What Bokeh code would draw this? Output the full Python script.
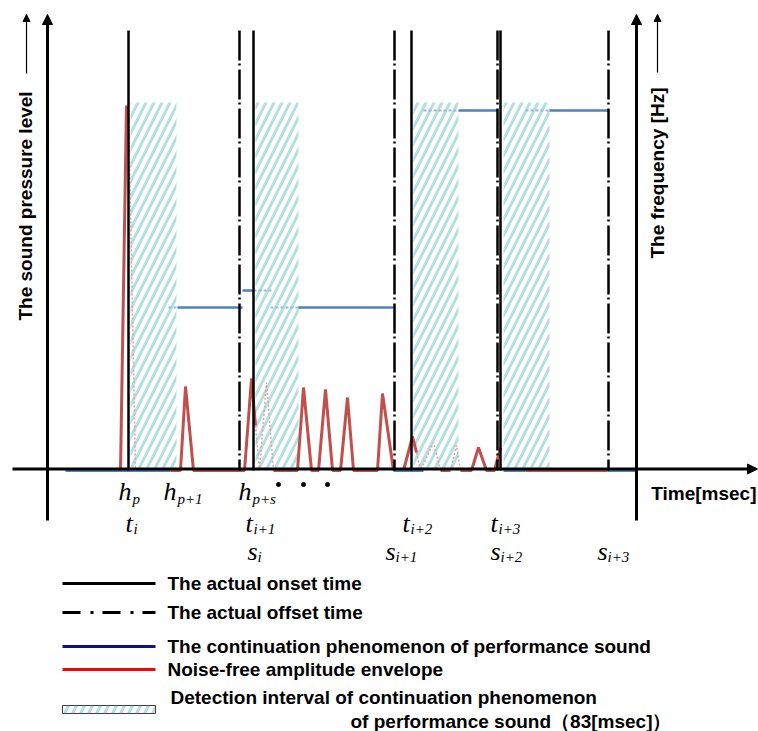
import math
from bokeh.plotting import figure
from bokeh.models import Range1d, Arrow, NormalHead
from bokeh.core.properties import value
from bokeh.embed import file_html
from bokeh.resources import INLINE

# ---------------- data (time in diagram units, level above the time axis) ----------------
onset_t = [128, 253, 411, 500]          # actual onset times t_i ... t_i+3
offset_t = [239, 394, 497, 608]         # actual offset times s_i ... s_i+3
marker_top = [440, 440, 440, 440]

detect_start = [130, 255, 413, 503]     # detection intervals (83 msec)
detect_end = [176, 298, 458, 549]
detect_top = [368, 368, 368, 368]

freq_solid_x0 = [177, 298, 242, 458, 549]
freq_solid_x1 = [242, 393, 253, 497, 608]
freq_solid_lv = [163, 163, 180, 360, 360]
freq_dot_x0 = [168, 270, 253, 423, 525]
freq_dot_x1 = [177, 298, 272, 458, 549]
freq_dot_lv = [163, 163, 180, 360, 360]
freq_zero_x0 = [65, 393, 503, 607]
freq_zero_x1 = [170, 423, 525, 636]

env_xs = [
    [120, 126],
    [170, 180, 185, 193, 244, 251, 255],
    [273, 297, 303, 311, 318, 325, 332, 340, 347, 353, 377, 382, 393],
    [403, 412, 416],
    [440, 450],
    [460, 471, 478, 486, 494, 500],
    [525, 607],
]
env_ys = [
    [0, 365],
    [0, 0, 84, 0, 0, 92, 45],
    [0, 0, 83, 0, 0, 81, 0, 0, 73, 0, 0, 77, 0],
    [0, 34, 18],
    [0, 0],
    [0, 0, 23, 0, 0, 23],
    [0, 0],
]
env_dot_xs = [[128, 135], [255, 259, 266, 273], [416, 420, 433, 440], [450, 456, 460]]
env_dot_ys = [[365, 0], [45, 0, 88, 0], [18, 0, 28, 0], [0, 25, 0]]

h_subs = ["p", "p+1", "p+s"]
h_pos = [118, 163, 238]
t_subs = ["i", "i+1", "i+2", "i+3"]
t_pos = [125, 245, 402, 490]
s_subs = ["i", "i+1", "i+2", "i+3"]
s_pos = [247, 385, 490, 597]
dots_t = [278, 303, 327]
dots_lv = [-14, -14, -14]

legend_labels = ["The actual onset time", "The actual offset time",
                 "The continuation phenomenon of performance sound",
                 "Noise-free amplitude envelope"]

# ---------------- figure ----------------
BASE = 470
def lv(Y):
    return BASE - Y

W, H = 758, 731
p = figure(width=W, height=H, x_range=Range1d(0, W), y_range=Range1d(lv(H), lv(0)),
           output_backend="svg", toolbar_location=None,
           x_axis_location=None, y_axis_location=None, min_border=0,
           min_border_left=0, min_border_right=0, min_border_top=0, min_border_bottom=0)
p.grid.visible = False
p.outline_line_color = None
p.background_fill_color = "white"

SANS = value("Liberation Sans")
SERIF = value("Liberation Serif")
HATCH = "#b3e0e4"

# detection intervals
p.quad(left=detect_start, right=detect_end, bottom=[0] * 4, top=detect_top,
       fill_color=None, line_color=None, hatch_pattern="/", hatch_color=HATCH,
       hatch_scale=16, hatch_weight=3)

# frequency lines
p.segment(x0=freq_dot_x0, y0=freq_dot_lv, x1=freq_dot_x1, y1=freq_dot_lv,
          line_color="#9db6dc", line_width=2, line_dash="3 2")
p.segment(x0=freq_solid_x0, y0=freq_solid_lv, x1=freq_solid_x1, y1=freq_solid_lv,
          line_color="#4f81bd", line_width=2.5)
p.segment(x0=freq_zero_x0, y0=[0] * 4, x1=freq_zero_x1, y1=[0] * 4,
          line_color="#4f81bd", line_width=3)

# envelope
p.multi_line(xs=env_dot_xs, ys=env_dot_ys, line_color="#e3a2a2", line_width=1.5, line_dash="2 2")
p.multi_line(xs=env_xs, ys=env_ys, line_color="#c0504d", line_width=3)

# onset / offset lines
p.segment(x0=onset_t, y0=marker_top, x1=onset_t, y1=[0] * 4, line_color="black", line_width=2.5)
p.segment(x0=offset_t, y0=marker_top, x1=offset_t, y1=[0] * 4, line_color="black",
          line_width=2.5, line_dash="30 3 2 4")

# axes
p.add_layout(Arrow(x_start=12, y_start=1.5, x_end=757, y_end=1.5, line_width=3,
                   end=NormalHead(size=10, fill_color="black", line_color="black")))
p.add_layout(Arrow(x_start=47, y_start=lv(520), x_end=47, y_end=lv(14), line_width=3,
                   end=NormalHead(size=10, fill_color="black", line_color="black")))
p.add_layout(Arrow(x_start=636, y_start=lv(520), x_end=636, y_end=lv(14), line_width=3,
                   end=NormalHead(size=10, fill_color="black", line_color="black")))
p.add_layout(Arrow(x_start=26, y_start=lv(73), x_end=26, y_end=lv(14), line_width=1.2,
                   end=NormalHead(size=7, fill_color="black", line_color="black")))
p.add_layout(Arrow(x_start=657, y_start=lv(72), x_end=657, y_end=lv(14), line_width=1.2,
                   end=NormalHead(size=7, fill_color="black", line_color="black")))

p.text(x=[25], y=[lv(320)], text=["The sound pressure level"], angle=math.pi / 2,
       text_font=SANS, text_font_style="bold", text_font_size="19px",
       text_align="left", text_baseline="middle", text_color="black")
p.text(x=[657], y=[lv(258)], text=["The frequency [Hz]"], angle=math.pi / 2,
       text_font=SANS, text_font_style="bold", text_font_size="19px",
       text_align="left", text_baseline="middle", text_color="black")
p.text(x=[756], y=[lv(493)], text=["Time[msec]"], text_font=SANS, text_font_style="bold",
       text_font_size="19px", text_align="right", text_baseline="middle", text_color="black")

# symbol labels
def sym(letter, pos, subs, yb, ys, dx):
    p.text(x=pos, y=[lv(yb)] * len(pos), text=[letter] * len(pos), text_font=SERIF,
           text_font_style="italic", text_font_size="26px", text_align="left",
           text_baseline="alphabetic", text_color="black")
    p.text(x=pos, y=[lv(ys)] * len(pos), text=subs, x_offset=dx, text_font=SERIF,
           text_font_style="italic", text_font_size="15px", text_align="left",
           text_baseline="alphabetic", text_color="black")

sym("h", h_pos, h_subs, 491, 498, 14)
sym("t", t_pos, t_subs, 523, 528, 8)
sym("s", s_pos, s_subs, 551, 556, 10)
p.scatter(x=dots_t, y=dots_lv, size=4, color="black")

# legend (drawn)
LX0, LX1, TX = 62, 155, 167
p.line(x=[LX0, LX1], y=[lv(583)] * 2, line_color="black", line_width=3)
p.line(x=[LX0, LX1], y=[lv(612)] * 2, line_color="black", line_width=3, line_dash="18 10 3 9")
p.line(x=[LX0, LX1], y=[lv(646)] * 2, line_color="#10108c", line_width=3)
p.line(x=[LX0, LX1], y=[lv(669)] * 2, line_color="#ff0000", line_width=3)
p.quad(left=[LX0], right=[LX1], bottom=[lv(713)], top=[lv(705)], fill_color="white",
       line_color="#404040", line_width=1, hatch_pattern="/", hatch_color=HATCH,
       hatch_scale=16, hatch_weight=3)
p.text(x=[TX] * 4, y=[lv(583), lv(612), lv(646), lv(669)], text=legend_labels,
       text_font=SANS, text_font_style="bold", text_font_size="19px",
       text_align="left", text_baseline="middle", text_color="black")
p.text(x=[170], y=[lv(697)], text=["Detection interval of continuation phenomenon"],
       text_font=SANS, text_font_style="bold", text_font_size="19px",
       text_align="left", text_baseline="middle", text_color="black")
p.text(x=[350], y=[lv(721)], text=["of performance sound\uff0883[msec]\uff09"],
       text_font=SANS, text_font_style="bold", text_font_size="19px",
       text_align="left", text_baseline="middle", text_color="black")

open("out.html", "w").write(file_html(p, INLINE))
